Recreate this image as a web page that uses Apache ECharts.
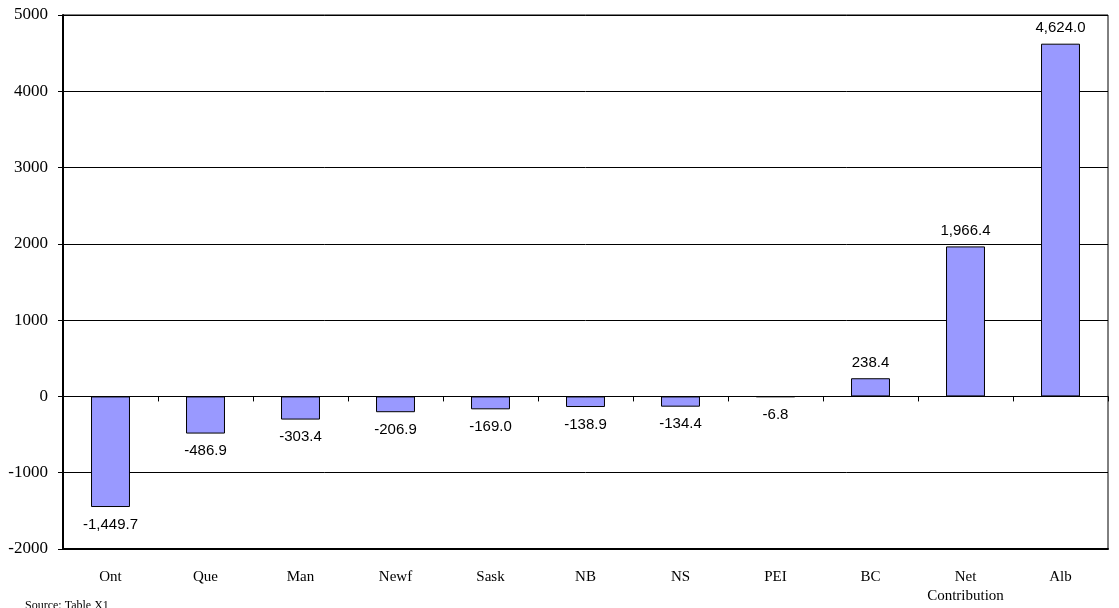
<!DOCTYPE html>
<html>
<head>
<meta charset="utf-8">
<script src="https://cdn.jsdelivr.net/npm/echarts@6/dist/echarts.min.js"></script>
<style>
  html, body { margin: 0; padding: 0; background: #fff; }
  #chart { width: 1119px; height: 608px; }
</style>
</head>
<body>
<div id="chart"></div>
<script>
// Provinces' net contribution (bar chart, sorted)
const categories = ['Ont', 'Que', 'Man', 'Newf', 'Sask', 'NB', 'NS', 'PEI', 'BC', 'Net\nContribution', 'Alb'];
const values = [-1449.7, -486.9, -303.4, -206.9, -169.0, -138.9, -134.4, -6.8, 238.4, 1966.4, 4624.0];
const sourceNote = 'Source: Table X1';

const serif = '"Liberation Serif", "Times New Roman", serif';
const sans = '"Liberation Sans", Arial, sans-serif';

function fmt(v) {
  return v.toLocaleString('en-US', { minimumFractionDigits: 1, maximumFractionDigits: 1 });
}

const chart = echarts.init(document.getElementById('chart'));
chart.setOption({
  animation: false,
  grid: {
    left: 63, right: 11, top: 15, bottom: 59,
    show: true, borderColor: '#000', borderWidth: 1, backgroundColor: '#fff'
  },
  graphic: [{
    type: 'text', left: 25, top: 600,
    style: { text: sourceNote, font: '12px ' + serif, fill: '#000' }
  }],
  xAxis: [
    {
      type: 'category', data: categories,
      axisLine: { onZero: true, lineStyle: { color: '#000', width: 1 } },
      axisTick: { show: true, length: 5, lineStyle: { color: '#000' } },
      axisLabel: { show: false },
      splitLine: { show: false }
    },
    {
      type: 'category', data: categories, position: 'bottom',
      axisLine: { onZero: false, show: true, lineStyle: { color: '#000', width: 2 } },
      axisTick: { show: false },
      axisLabel: {
        show: true, color: '#000', fontFamily: serif, fontSize: 15,
        margin: 19, lineHeight: 19, interval: 0
      }
    }
  ],
  yAxis: {
    type: 'value', min: -2000, max: 5000, interval: 1000,
    axisLine: { show: true, lineStyle: { color: '#000', width: 2 } },
    axisTick: { show: true, length: 5, lineStyle: { color: '#000' } },
    axisLabel: { color: '#000', fontFamily: serif, fontSize: 17, margin: 15, formatter: v => String(v) },
    splitLine: { show: true, lineStyle: { color: '#000', width: 1 } }
  },
  series: [{
    type: 'bar', xAxisIndex: 0,
    data: values.map(v => ({
      value: v,
      // negative bars carry their value label below the bar end
      label: { position: v < 0 ? 'bottom' : 'top', distance: v < 0 ? 10 : 8 }
    })),
    barWidth: '41%',
    itemStyle: { color: '#9999FF', borderColor: '#000', borderWidth: 1 },
    label: {
      show: true,
      formatter: p => fmt(p.value),
      color: '#000', fontFamily: sans, fontSize: 15
    }
  }]
});
</script>
</body>
</html>
